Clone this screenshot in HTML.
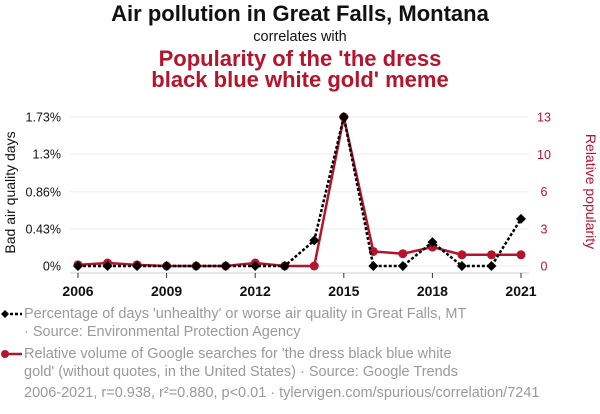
<!DOCTYPE html>
<html><head><meta charset="utf-8"><style>
body{margin:0;background:#fff;font-family:"Liberation Sans",sans-serif;}
.t{position:absolute;left:0;width:600px;text-align:center;}
.leg{position:absolute;left:24px;font-size:14.5px;color:#9a9a9a;line-height:18px;}
</style></head><body>
<div style="position:relative;width:600px;height:414px;overflow:hidden">
<div class="t" style="top:1px;font-size:22px;font-weight:bold;color:#111;line-height:26px">Air pollution in Great Falls, Montana</div>
<div class="t" style="top:29px;font-size:14.5px;color:#111">correlates with</div>
<div class="t" style="top:48px;font-size:22px;font-weight:bold;color:#b5142d;line-height:21px">Popularity of the 'the dress<br>black blue white gold' meme</div>
<svg id="svg" width="600" height="414" style="position:absolute;left:0;top:0"></svg>
<div class="leg" style="top:305px">Percentage of days 'unhealthy' or worse air quality in Great Falls, MT<br>· Source: Environmental Protection Agency</div>
<div class="leg" style="top:345px">Relative volume of Google searches for 'the dress black blue white<br>gold' (without quotes, in the United States) · Source: Google Trends</div>
<div class="leg" style="top:384px">2006-2021, r=0.938, r²=0.880, p&lt;0.01 · tylervigen.com/spurious/correlation/7241</div>
</div>
<script>
const years=[2006,2007,2008,2009,2010,2011,2012,2013,2014,2015,2016,2017,2018,2019,2020,2021];
const airValues=[0,0,0,0,0,0,0,0,0.297,1.73,0,0,0.277,0,0,0.547];
const dressValues=[0.1,0.26,0.1,0,0,0,0.26,0,0,13,1.27,1.07,1.65,0.98,0.98,0.98];
const leftTicks=[0,0.43,0.86,1.3,1.73];
const leftTickLabels=["0%","0.43%","0.86%","1.3%","1.73%"];
const rightTicks=[0,3.25,6.5,9.75,13];
const rightTickLabels=["0","3","6","10","13"];
const xTicks=[2006,2009,2012,2015,2018,2021];

const NS="http://www.w3.org/2000/svg";
const svg=document.getElementById('svg');
const X0=78,X1=521,Y0=266,Y1=117;
const x=v=>X0+(v-2006)/(2021-2006)*(X1-X0);
const yl=v=>Y0-v/1.73*(Y0-Y1);
const yr=v=>Y0-v/13*(Y0-Y1);
function mk(tag,attrs,parent){const e=document.createElementNS(NS,tag);for(const k in attrs)e.setAttribute(k,attrs[k]);(parent||svg).appendChild(e);return e;}

leftTicks.forEach((t,i)=>{
  const g=mk('line',{x1:X0-8,x2:X1+8,y1:yl(t),y2:yl(t),stroke:'#eee','stroke-width':1});
  
  
  const tx=mk('text',{x:X0-17,y:yl(t)+4.5,'text-anchor':'end','font-size':12.5,fill:'#111'});
  tx.textContent=leftTickLabels[i];
  
  
});
rightTicks.forEach((t,i)=>{
  const tx=mk('text',{x:X1+23,y:yr(t)+4.5,'text-anchor':'middle','font-size':12.5,fill:'#b5142d'});
  tx.textContent=rightTickLabels[i];
  
  
});
const ax=mk('line',{x1:X0-8,x2:X1+8,y1:Y0+7,y2:Y0+7,stroke:'#ccc'});


xTicks.forEach(t=>{
  const tk=mk('line',{x1:x(t),x2:x(t),y1:Y0+7,y2:Y0+12,stroke:'#333'});
  
  
  const tx=mk('text',{x:x(t),y:Y0+30,'text-anchor':'middle','font-size':14,'font-weight':'bold',fill:'#111'});
  tx.textContent=t;
  
  
});
const lt=mk('text',{x:0,y:0,transform:`translate(15,${(Y0+Y1)/2+1}) rotate(-90)`,'text-anchor':'middle','font-size':14,fill:'#111'});
lt.textContent='Bad air quality days';


const rt=mk('text',{x:0,y:0,transform:`translate(586,${(Y0+Y1)/2}) rotate(90)`,'text-anchor':'middle','font-size':14,fill:'#b5142d'});
rt.textContent='Relative popularity';



const rl=mk('polyline',{points:years.map((yv,i)=>x(yv)+','+yr(dressValues[i])).join(' '),fill:'none',stroke:'#b5142d','stroke-width':2.5,'stroke-linejoin':'round'});


years.forEach((yv,i)=>{
  const c=mk('circle',{cx:x(yv),cy:yr(dressValues[i]),r:4.5,fill:'#b5142d'});
  
  
});
const bl=mk('polyline',{points:years.map((yv,i)=>x(yv)+','+yl(airValues[i])).join(' '),fill:'none',stroke:'#000','stroke-width':2.5,'stroke-dasharray':'3,2'});


years.forEach((yv,i)=>{
  const cx=x(yv),cy=yl(airValues[i]);
  const d=mk('polygon',{points:`${cx},${cy-5} ${cx+5},${cy} ${cx},${cy+5} ${cx-5},${cy}`,fill:'#000'});
  
  
});
const l1=mk('line',{x1:5,x2:22,y1:314,y2:314,stroke:'#000','stroke-width':2.5,'stroke-dasharray':'3,2'});


const l1d=mk('polygon',{points:'5,310 9,314 5,318 1,314',fill:'#000'});


const l2=mk('line',{x1:5,x2:22,y1:354,y2:354,stroke:'#b5142d','stroke-width':2.5});


const l2c=mk('circle',{cx:5,cy:354,r:4,fill:'#b5142d'});


</script>
</body></html>
